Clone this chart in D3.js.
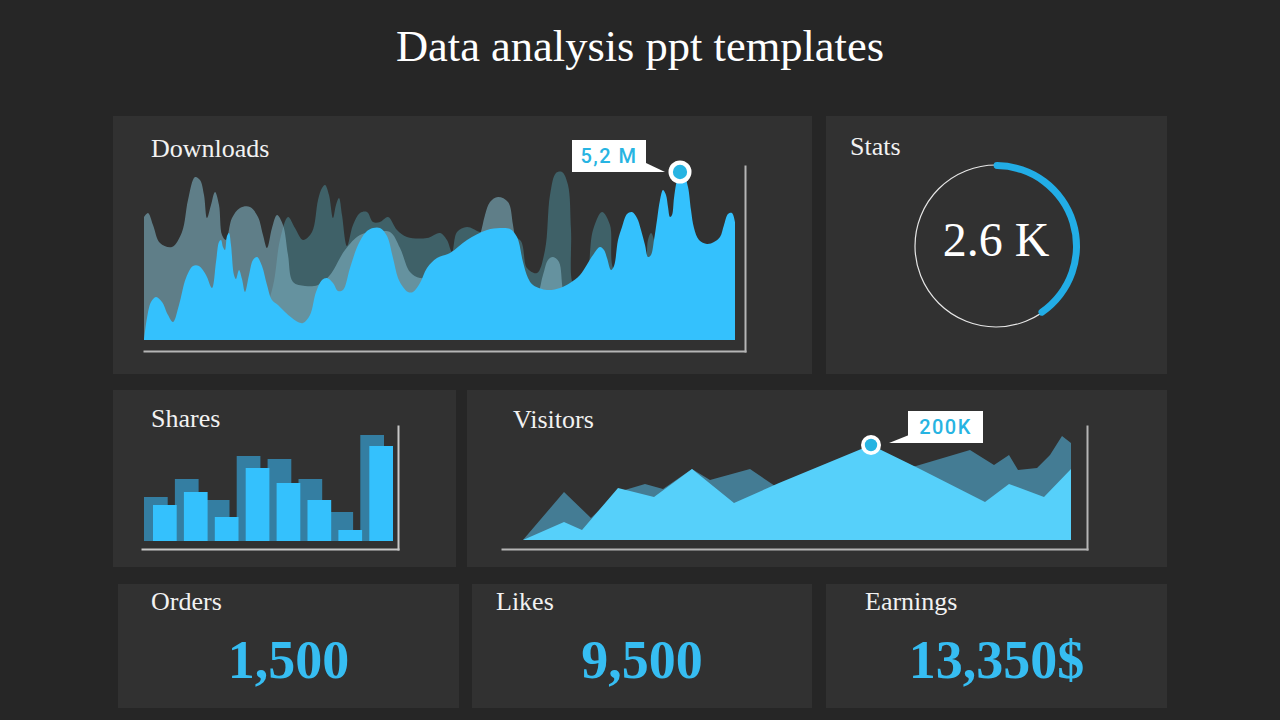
<!DOCTYPE html>
<html>
<head>
<meta charset="utf-8">
<script src="https://cdn.jsdelivr.net/npm/d3@7"></script>
<style>
  html, body { margin: 0; padding: 0; background: #262626; }
  svg { display: block; }
</style>
</head>
<body>
<svg id="chart" width="1280" height="720"></svg>
<script>
// ---------- DATA ----------
const title = "Data analysis ppt templates";

// Downloads: [day, value] pairs (value in arbitrary units, peak = 5,2 M)
const downloadsFront = [[0,0],[3,22],[7,38],[12,43],[18,38],[24,25],[29,18],[35,35],[42,62],[49,74],[55,74],[62,65],[68,52],[72,78],[75,98],[77,100],[79,93],[81,90],[83,104],[85,107],[87,95],[90,65],[92,61],[95,70],[98,61],[101,48],[105,65],[109,80],[113,83],[118,74],[123,55],[128,40],[134,35],[141,28],[148,22],[154,18],[159,17],[166,25],[172,48],[178,60],[183,62],[189,57],[194,49],[199,50],[206,72],[214,95],[222,108],[229,112],[236,112],[243,104],[249,82],[254,62],[259,53],[264,48],[269,48],[276,57],[283,72],[293,82],[306,87],[323,100],[343,110],[356,112],[366,111],[373,103],[379,78],[384,62],[389,55],[403,50],[416,52],[426,57],[436,65],[449,85],[456,93],[460,90],[463,82],[467,70],[470,74],[474,100],[478,113],[483,126],[488,128],[493,122],[497,110],[501,95],[504,83],[507,85],[510,100],[513,120],[516,140],[519,150],[522,145],[524,133],[526,123],[528,125],[530,142],[533,160],[536,167],[540,165],[544,153],[547,130],[550,112],[555,100],[563,96],[570,98],[576,103],[580,115],[584,126],[588,127],[591,118]];
const downloadsLight = [[0,123],[4,127],[9,115],[16,97],[28,93],[38,108],[44,140],[51,163],[56,160],[60,145],[63,122],[67,135],[71,148],[75,135],[78,105],[82,100],[88,122],[96,132],[106,133],[114,123],[119,105],[123,92],[128,112],[133,125],[139,115],[144,85],[149,58],[161,54],[174,55],[186,65],[201,90],[216,105],[231,108],[246,108],[256,92],[266,68],[276,62],[291,65],[306,70],[326,82],[336,105],[341,125],[346,138],[354,143],[364,138],[369,115],[374,80],[381,45],[391,40],[399,65],[404,80],[409,83],[415,78],[419,50],[426,30],[456,25],[591,25]];
const downloadsDark = [[0,0],[56,5],[111,10],[128,50],[136,100],[144,123],[151,112],[159,100],[168,108],[174,140],[178,152],[181,155],[185,145],[189,122],[192,135],[195,142],[198,125],[203,94],[209,115],[216,127],[223,128],[229,118],[236,118],[244,123],[253,110],[263,103],[283,102],[296,107],[303,100],[308,88],[313,108],[323,113],[336,108],[356,105],[376,100],[383,72],[393,67],[401,90],[406,145],[412,167],[418,168],[424,155],[427,110],[430,55],[441,60],[449,110],[458,128],[466,115],[470,70],[486,60],[501,78],[504,100],[507,107],[510,100],[513,60],[536,20],[591,20]];
const downloadsLabel = "5,2 M";

// Stats ring
const statsValue = "2.6 K";
const statsShare = 0.415;

// Shares bars
const shareCats = ["1","2","3","4","5","6","7","8"];
const sharesBack = [44,62,41,85,82,62,29,106];
const sharesFront = [36,49,24,73,58,41,11,95];

// Visitors areas: [day, value]
const visitorsFront = [[0,0],[41,18],[59,10],[95,52],[131,43],[169,71],[211,37],[256,57],[348,95],[395,72],[462,38],[486,56],[521,43],[548,71]];
const visitorsBack = [[0,0],[41,48],[68,22],[95,48],[122,56],[140,51],[169,71],[187,60],[227,71],[252,54],[393,74],[447,90],[471,75],[486,85],[495,70],[514,72],[527,85],[539,104],[548,97]];
const visitorsLabel = "200K";

// KPI cards
const kpiNames = ["Orders","Likes","Earnings"];
const kpiValues = ["1,500","9,500","13,350$"];

// ---------- DRAW ----------
const svg = d3.select("#chart");
const SERIF = "'Liberation Serif', 'Times New Roman', serif";
const BLUE = "#34c1fd";
const DOT = "#27b4e2";

svg.append("rect").attr("width",1280).attr("height",720).attr("fill","#262626");

svg.append("text").attr("x",640).attr("y",61).attr("text-anchor","middle")
  .attr("font-family",SERIF).attr("font-size",44.5).attr("fill","#ffffff").text(title);

// panels
const panels = [
  {x:113,y:116,w:699,h:258,label:"Downloads",lx:151,ly:157},
  {x:826,y:116,w:341,h:258,label:"Stats",lx:850,ly:155},
  {x:113,y:390,w:343,h:177,label:"Shares",lx:151,ly:427},
  {x:467,y:390,w:700,h:177,label:"Visitors",lx:513,ly:428},
  {x:118,y:584,w:341,h:124,label:kpiNames[0],lx:151,ly:610},
  {x:472,y:584,w:340,h:124,label:kpiNames[1],lx:496,ly:610},
  {x:826,y:584,w:341,h:124,label:kpiNames[2],lx:865,ly:610}
];
panels.forEach(p => {
  svg.append("rect").attr("x",p.x).attr("y",p.y).attr("width",p.w).attr("height",p.h).attr("fill","#313131");
  svg.append("text").attr("x",p.lx).attr("y",p.ly).attr("font-family",SERIF).attr("font-size",26)
    .attr("fill","#f2f2f2").text(p.label);
});

function callout(g, cx, cy, side, text, bx, by, bw, bh, tail) {
  g.append("path").attr("d", tail).attr("fill","#ffffff");
  g.append("rect").attr("x",bx).attr("y",by).attr("width",bw).attr("height",bh).attr("fill","#ffffff");
  g.append("text").attr("x",bx+bw/2).attr("y",by+bh/2+7).attr("text-anchor","middle")
    .attr("font-family","Roboto, 'DejaVu Sans', sans-serif").attr("font-weight",500)
    .attr("font-size",20).attr("letter-spacing",1.5).attr("fill",DOT).text(text);
  g.append("circle").attr("cx",cx).attr("cy",cy).attr("r",side).attr("fill","#ffffff");
  g.append("circle").attr("cx",cx).attr("cy",cy).attr("r",side*0.62).attr("fill",DOT);
}

// ----- Downloads -----
{
  const x = d3.scaleLinear().domain([0,591]).range([144,735]);
  const y = d3.scaleLinear().domain([0,200]).range([340,140]);
  const area = d3.area().x(d=>x(d[0])).y0(y(0)).y1(d=>y(d[1])).curve(d3.curveCatmullRom.alpha(0.5));
  const g = svg.append("g");
  g.append("path").datum(downloadsDark).attr("d",area).attr("fill","#3f6168");
  g.append("path").datum(downloadsLight).attr("d",area).attr("fill","#82b6c8").attr("fill-opacity",0.58);
  g.append("path").datum(downloadsFront).attr("d",area).attr("fill",BLUE);
  // axes
  g.append("g").attr("transform","translate(0,351)")
    .call(d3.axisBottom(d3.scaleLinear().range([143,746])).ticks(0).tickSizeOuter(0))
    .call(a=>a.select(".domain").attr("stroke","#b5b5b5").attr("stroke-width",2));
  g.append("g").attr("transform","translate(745,0)")
    .call(d3.axisRight(d3.scaleLinear().range([352,165])).ticks(0).tickSizeOuter(0))
    .call(a=>a.select(".domain").attr("stroke","#b5b5b5").attr("stroke-width",2));
  const peak = downloadsFront.reduce((a,b)=> b[1]>a[1]?b:a);
  const cx = x(peak[0]), cy = y(peak[1]) - 1;
  callout(g, cx, cy, 11.5, downloadsLabel, cx-108, cy-32, 74, 32,
    `M${cx-34},${cy-9}L${cx-15},${cy}L${cx-34},${cy}Z`);
}

// ----- Stats -----
{
  const cx = 996, cy = 246, r = 81;
  svg.append("circle").attr("cx",cx).attr("cy",cy).attr("r",r).attr("fill","none")
    .attr("stroke","#e6e6e6").attr("stroke-width",1.2);
  const arc = d3.arc().innerRadius(r-4).outerRadius(r+3).cornerRadius(3.5)
    .startAngle(-0.03).endAngle(-0.03 + statsShare*2*Math.PI);
  svg.append("path").attr("transform",`translate(${cx},${cy})`).attr("d",arc()).attr("fill","#22ade6");
  svg.append("text").attr("x",cx).attr("y",cy+10).attr("text-anchor","middle")
    .attr("font-family",SERIF).attr("font-size",48).attr("fill","#ffffff").text(statsValue);
}

// ----- Shares -----
{
  const x = d3.scaleBand().domain(shareCats).range([144,384]).paddingInner(0.233).paddingOuter(0);
  const y = d3.scaleLinear().domain([0,120]).range([541,421]);
  const g = svg.append("g");
  g.selectAll(".b").data(sharesBack).join("rect")
    .attr("x",(d,i)=>x(shareCats[i])).attr("width",x.bandwidth())
    .attr("y",d=>y(d)).attr("height",d=>y(0)-y(d)).attr("fill","#347ea2");
  g.selectAll(".f").data(sharesFront).join("rect")
    .attr("x",(d,i)=>x(shareCats[i])+9).attr("width",x.bandwidth())
    .attr("y",d=>y(d)).attr("height",d=>y(0)-y(d)).attr("fill",BLUE);
  g.append("g").attr("transform","translate(0,549)")
    .call(d3.axisBottom(d3.scaleLinear().range([141,399])).ticks(0).tickSizeOuter(0))
    .call(a=>a.select(".domain").attr("stroke","#c8c8c8").attr("stroke-width",2));
  g.append("g").attr("transform","translate(398,0)")
    .call(d3.axisRight(d3.scaleLinear().range([550,425])).ticks(0).tickSizeOuter(0))
    .call(a=>a.select(".domain").attr("stroke","#c8c8c8").attr("stroke-width",2));
}

// ----- Visitors -----
{
  const x = d3.scaleLinear().domain([0,548]).range([523,1071]);
  const y = d3.scaleLinear().domain([0,100]).range([540,440]);
  const area = d3.area().x(d=>x(d[0])).y0(y(0)).y1(d=>y(d[1]));
  const g = svg.append("g");
  g.append("path").datum(visitorsBack).attr("d",area).attr("fill","#447c94");
  g.append("path").datum(visitorsFront).attr("d",area).attr("fill","#56d0fa");
  g.append("g").attr("transform","translate(0,549)")
    .call(d3.axisBottom(d3.scaleLinear().range([501,1088])).ticks(0).tickSizeOuter(0))
    .call(a=>a.select(".domain").attr("stroke","#b5b5b5").attr("stroke-width",2));
  g.append("g").attr("transform","translate(1087,0)")
    .call(d3.axisRight(d3.scaleLinear().range([550,425])).ticks(0).tickSizeOuter(0))
    .call(a=>a.select(".domain").attr("stroke","#b5b5b5").attr("stroke-width",2));
  const peak = visitorsFront.reduce((a,b)=> b[1]>a[1]?b:a);
  const cx = x(peak[0]), cy = y(peak[1]);
  callout(g, cx, cy, 10, visitorsLabel, cx+37, cy-34, 75, 32,
    `M${cx+38},${cy-10}L${cx+38},${cy-2}L${cx+18},${cy-2}Z`);
}

// ----- KPI values -----
const kpiCenters = [288.5, 642, 996.5];
kpiValues.forEach((v,i) => {
  svg.append("text").attr("x",kpiCenters[i]).attr("y",678).attr("text-anchor","middle")
    .attr("font-family",SERIF).attr("font-weight","bold").attr("font-size",54)
    .attr("fill","#36bdf2").text(v);
});
</script>
</body>
</html>
